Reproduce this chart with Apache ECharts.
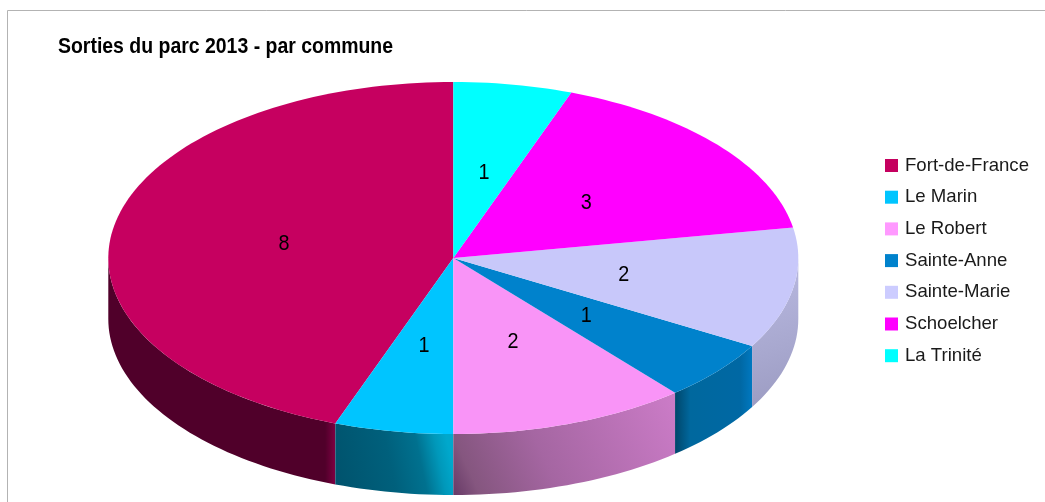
<!DOCTYPE html>
<html><head><meta charset="utf-8">
<style>html,body{margin:0;padding:0;background:#fff}#c{width:1045px;height:502px}</style>
<script src="https://cdn.jsdelivr.net/npm/echarts@6/dist/echarts.min.js"></script>
</head><body><div id="c"></div>
<script>
const titleText = 'Sorties du parc 2013 - par commune';
const categories = ['Fort-de-France','Le Marin','Le Robert','Sainte-Anne','Sainte-Marie','Schoelcher','La Trinité'];
const values = [8,1,2,1,2,3,1];
const topColors = ['#c60060','#00c5ff','#f994f7','#0082cc','#c8c8fa','#ff00ff','#00ffff'];
const legendColors = ['#c5005f','#00c5ff','#ff99ff','#0082cc','#ccccff','#ff00ff','#00ffff'];
const wallGradients = [
  {dir:[0,0,1,0],stops:[[0,'#50002a'],[0.955,'#50002a'],[1,'#7e0042']]},
  {dir:[0,1,1,0.65],stops:[[0,'#00526c'],[0.5,'#00607c'],[0.75,'#00718f'],[0.9,'#0098ba'],[1,'#00a8cc']]},
  {dir:[0,1,1,0],stops:[[0,'#673a66'],[0.1,'#85567f'],[0.4,'#a566a2'],[1,'#cc7cc8']]},
  {dir:[0,0,1,0],stops:[[0,'#00466a'],[0.2,'#00689e'],[0.85,'#0068a4'],[1,'#0078c0']]},
  {dir:[0,0,1,1],stops:[[0,'#8f8fb0'],[0.08,'#b8b8e0'],[0.6,'#a8a8cf'],[1,'#9a9ac0']]},
  {dir:[0,0,1,0],stops:[[0,'#800080'],[1,'#800080']]},
  {dir:[0,0,1,0],stops:[[0,'#008080'],[1,'#008080']]}
];
const cx = 453.3, cy = 258, rx = 345, ry = 176, depth = 61;
const total = values.reduce((a,b)=>a+b,0);
const px = (d,r=1)=>[cx+rx*r*Math.sin(d*Math.PI/180), cy-ry*r*Math.cos(d*Math.PI/180)];
function arc(a0,a1,dy){
  const n=Math.max(2,Math.ceil(Math.abs(a1-a0)/1.5)),pts=[];
  for(let i=0;i<=n;i++){const p=px(a0+(a1-a0)*i/n);pts.push([p[0],p[1]+dy]);}
  return pts;
}
const chart = echarts.init(document.getElementById('c'),null,{renderer:'canvas'});
function sliceRender(idx){
  return function(params,api){
    const v=api.value(0);
    let after=0; for(let j=idx+1;j<values.length;j++) after+=values[j];
    const a0=after/total*360, a1=a0+v/total*360, children=[];
    const w0=Math.max(a0,90), w1=Math.min(a1,270);
    if(w1>w0){
      const g=wallGradients[idx];
      children.push({type:'polygon',z2:1,shape:{points:arc(w0,w1,0).concat(arc(w1,w0,depth))},
        style:{fill:new echarts.graphic.LinearGradient(g.dir[0],g.dir[1],g.dir[2],g.dir[3],g.stops.map(s=>({offset:s[0],color:s[1]}))),lineWidth:0}});
    }
    children.push({type:'polygon',z2:2,shape:{points:[[cx,cy]].concat(arc(a0,a1,0))},style:{fill:topColors[idx],lineWidth:0}});
    const m=px((a0+a1)/2,0.5);
    children.push({type:'text',z2:3,x:m[0]+0.7,y:m[1]+1.5,scaleX:0.9,style:{text:String(v),fill:'#000',font:'22px "Liberation Sans"',textAlign:'center',textVerticalAlign:'middle'}});
    return {type:'group',children};
  };
}
chart.setOption({
  animation:false,
  backgroundColor:'#fff',
  legend:{show:true,orient:'vertical',left:885,top:156,padding:0,icon:'rect',itemWidth:13,itemHeight:13,itemGap:12.7,selectedMode:false,
    data:categories,textStyle:{fontFamily:'Liberation Sans',fontSize:18.6,color:'#1a1a1a',padding:[0,0,0,2]}},
  graphic:[
    {type:'polyline',silent:true,shape:{points:[[7.5,502],[7.5,10.5],[1045,10.5]]},style:{stroke:'#b3b3b3',lineWidth:1,fill:null}},
    {type:'text',silent:true,x:58,y:46.5,scaleX:0.884,style:{text:titleText,fill:'#000',font:'bold 22px "Liberation Sans"',textAlign:'left',textVerticalAlign:'middle'}}
  ],
  series:categories.map((name,i)=>({
    type:'custom',name,coordinateSystem:'none',silent:true,
    itemStyle:{color:legendColors[i]},
    renderItem:sliceRender(i),
    data:[[values[i]]]
  }))
});
</script></body></html>
